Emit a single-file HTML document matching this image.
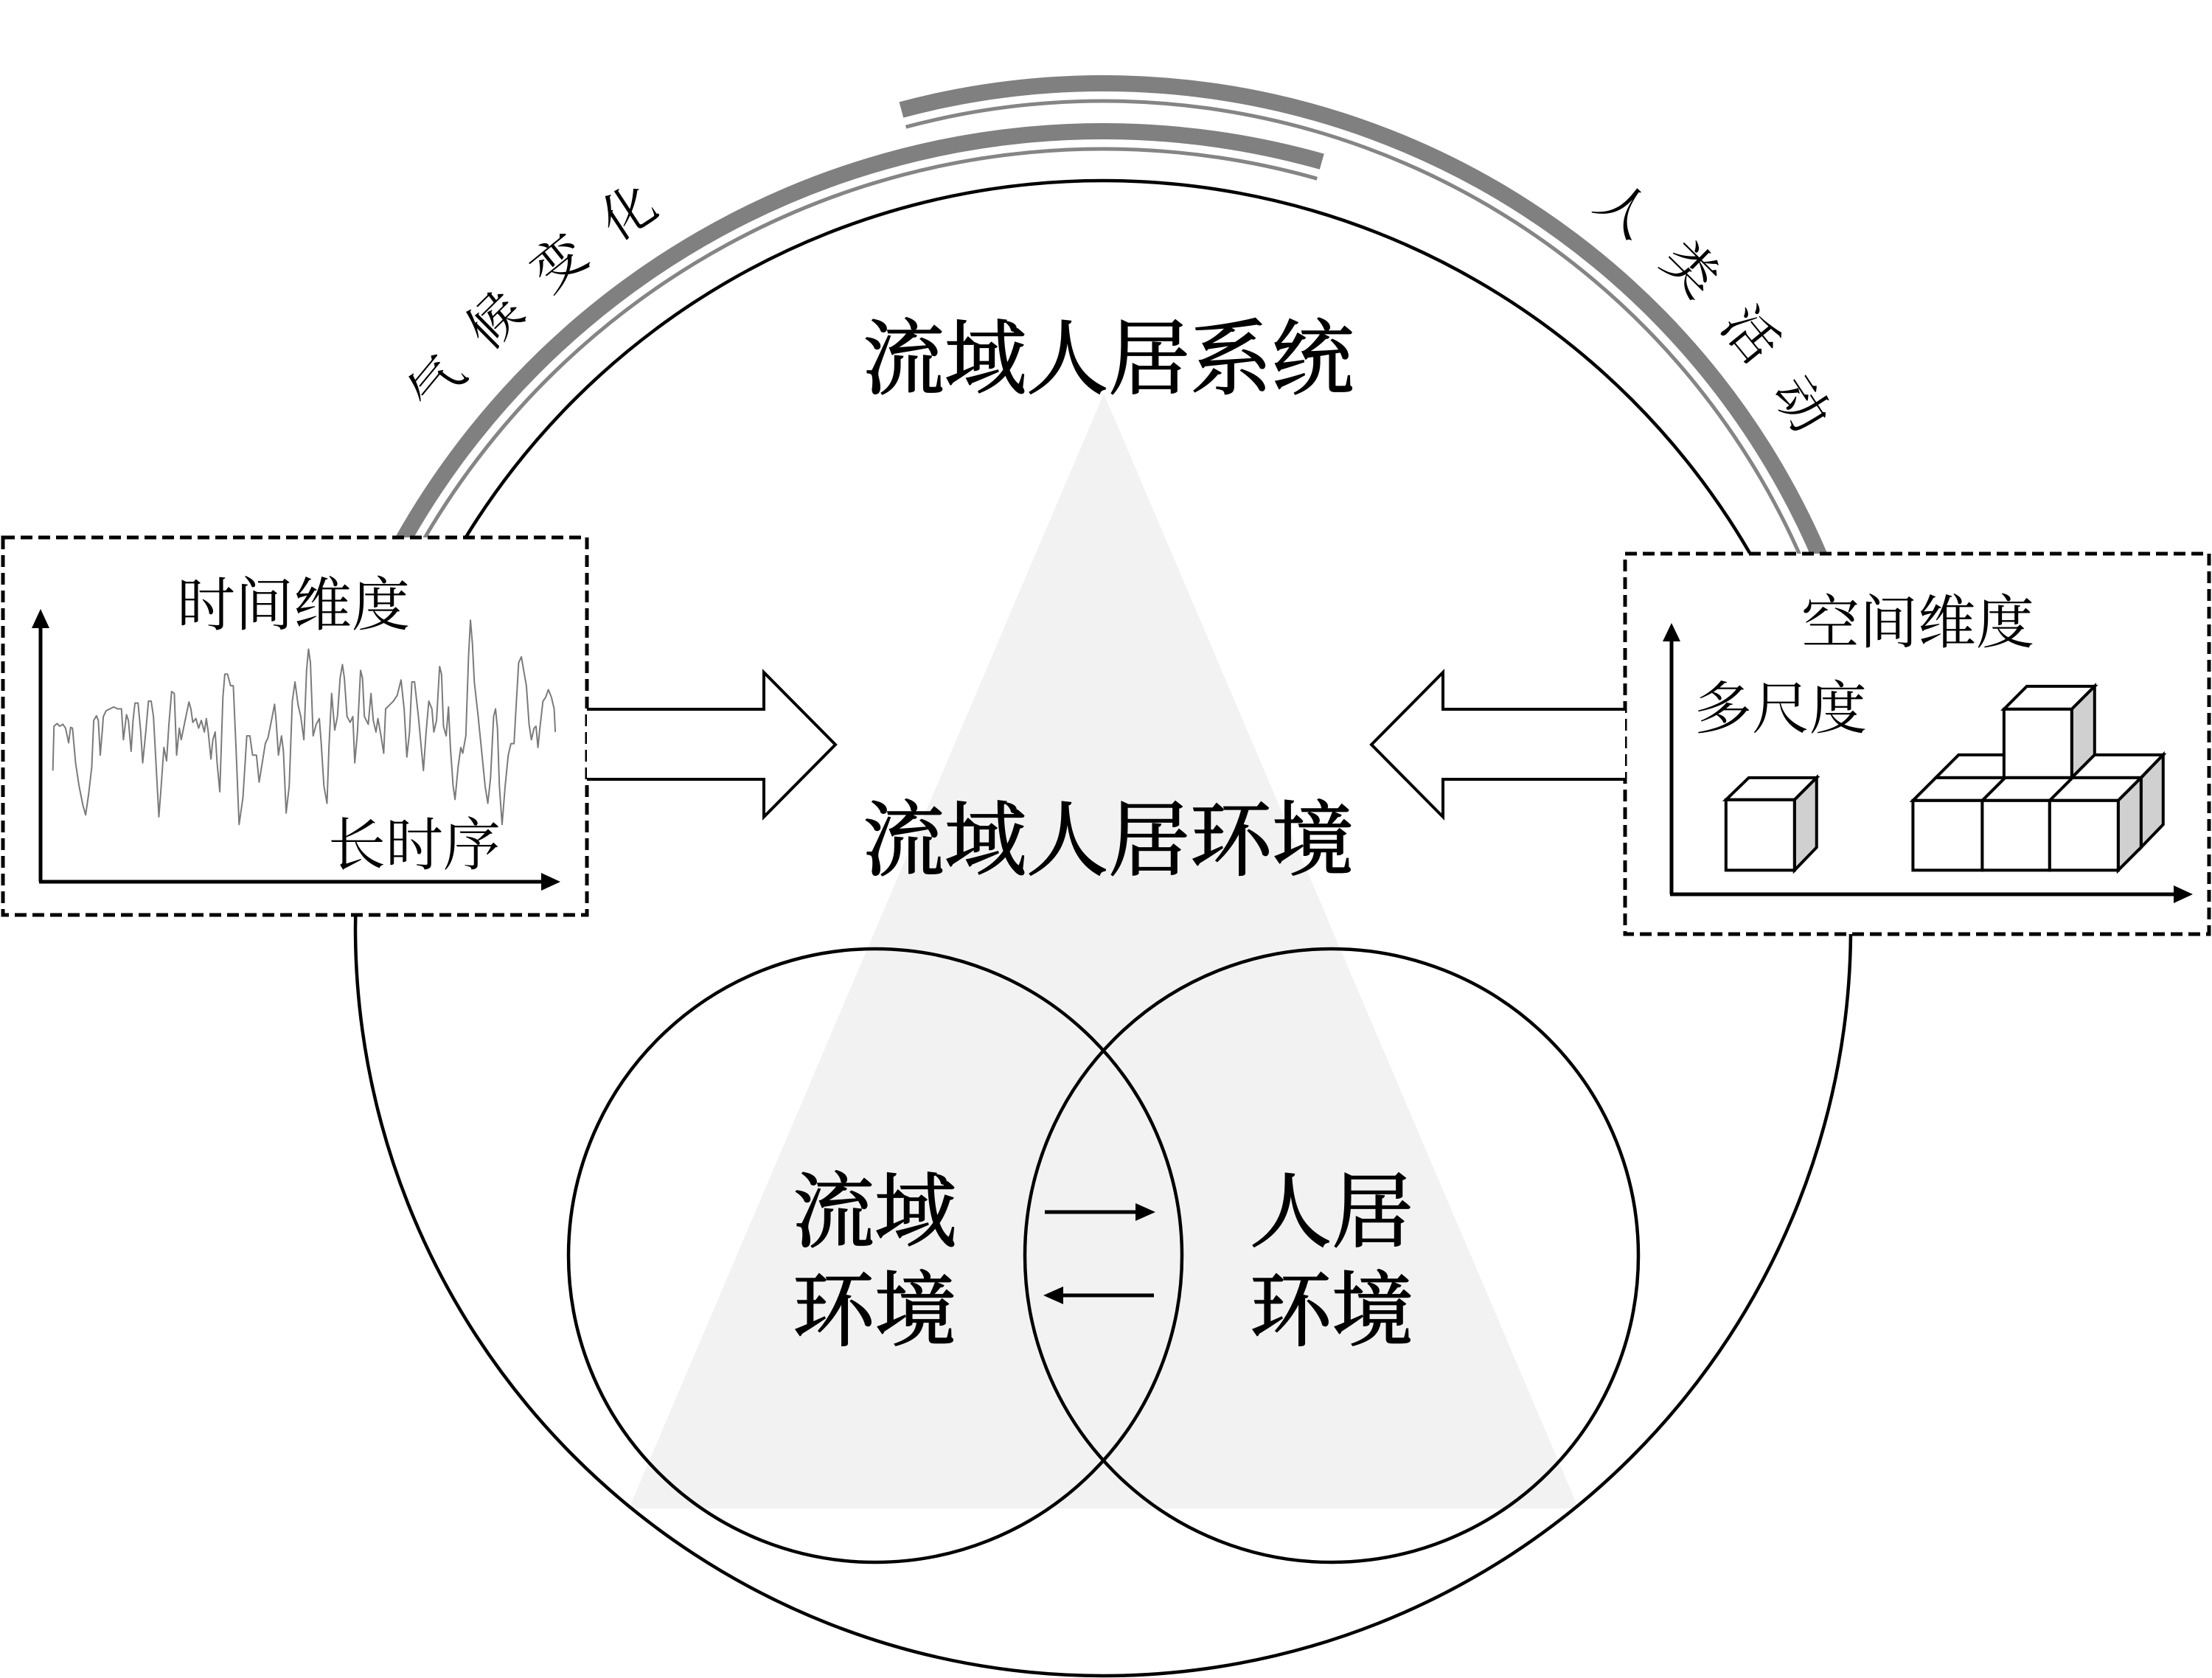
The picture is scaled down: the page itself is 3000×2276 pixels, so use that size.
<!DOCTYPE html>
<html>
<head>
<meta charset="utf-8">
<style>
html,body{margin:0;padding:0;background:#fff;}
svg{display:block;}
.t{font-family:"Liberation Serif","Noto Serif CJK SC","Noto Sans CJK SC",serif;fill:#000;}
</style>
</head>
<body>
<svg width="3000" height="2276" viewBox="0 0 3000 2276" xmlns="http://www.w3.org/2000/svg">
<rect width="3000" height="2276" fill="#fff"/>

<!-- light triangle -->
<polygon points="1497,534 853,2046 2141,2046" fill="#f2f2f2"/>

<!-- big circle -->
<circle cx="1496" cy="1259" r="1014" fill="none" stroke="#000" stroke-width="4.5"/>

<!-- venn circles -->
<circle cx="1187" cy="1703" r="416" fill="none" stroke="#000" stroke-width="4.5"/>
<circle cx="1806" cy="1703" r="416" fill="none" stroke="#000" stroke-width="4.5"/>

<!-- climate change arcs -->
<path d="M453.6,949.3 A1090,1090 0 0 1 1792.8,219.2" fill="none" stroke="#808080" stroke-width="22"/>
<path d="M476.6,956.3 A1066,1066 0 0 1 1786.3,242.3" fill="none" stroke="#858585" stroke-width="5"/>

<!-- human activity arcs -->
<path d="M1222.4,149 A1057,1057 0 0 1 2539.3,1000.1" fill="none" stroke="#808080" stroke-width="22"/>
<path d="M1228.6,172.2 A1033,1033 0 0 1 2515.6,1004" fill="none" stroke="#858585" stroke-width="5"/>

<!-- arc texts -->
<g class="t" font-size="72" text-anchor="middle">
<text transform="translate(590.7,519) rotate(-50.4)" x="0" y="27">气</text>
<text transform="translate(669.5,432.8) rotate(-44.7)" x="0" y="27">候</text>
<text transform="translate(756.6,354.9) rotate(-39)" x="0" y="27">变</text>
<text transform="translate(850.9,285.9) rotate(-33.3)" x="0" y="27">化</text>
<text transform="translate(2204.1,283) rotate(38.6)" x="0" y="27">人</text>
<text transform="translate(2294.4,363.2) rotate(44.7)" x="0" y="27">类</text>
<text transform="translate(2375.5,452.7) rotate(50.8)" x="0" y="27">活</text>
<text transform="translate(2444.6,546.9) rotate(56.7)" x="0" y="27">动</text>
</g>

<!-- left dashed box -->
<rect x="4" y="729" width="792" height="512" fill="#fff" stroke="#000" stroke-width="5" stroke-dasharray="16 8"/>
<!-- right dashed box -->
<rect x="2204" y="751" width="792" height="516" fill="#fff" stroke="#000" stroke-width="5" stroke-dasharray="16 8"/>

<!-- left box axes -->
<line x1="55" y1="1196" x2="55" y2="848" stroke="#000" stroke-width="5"/>
<line x1="53" y1="1196" x2="738" y2="1196" stroke="#000" stroke-width="5"/>
<polygon points="55,826 43,852 67,852" fill="#000"/>
<polygon points="760,1196 734,1184 734,1208" fill="#000"/>

<!-- waveform -->
<g transform="translate(0,700) scale(0.523)">
<polyline fill="none" stroke="#7a7a7a" stroke-width="3.8" stroke-linejoin="round" points="137,660 140,545 148,538 155,545 163,540 170,550 178,588 183,548 188,550 196,640 205,700 215,750 222,775 230,720 238,650 243,530 250,518 255,530 260,620 265,560 268,520 275,505 285,500 295,495 305,500 315,500 320,580 328,515 333,530 340,610 345,530 350,485 358,485 365,560 370,640 378,560 385,480 392,480 398,520 405,650 412,780 418,700 425,600 432,635 438,540 445,455 452,460 458,620 465,550 470,580 480,530 490,482 495,500 500,535 508,525 515,550 522,530 530,560 535,525 540,560 547,630 552,580 558,560 563,640 570,715 578,470 583,410 590,410 598,440 605,440 612,600 620,800 630,730 640,570 648,570 655,620 665,620 672,690 680,640 688,590 695,575 705,525 712,488 716,530 722,620 730,570 735,610 742,770 750,700 758,480 765,430 773,490 780,520 788,580 795,400 800,345 805,380 812,570 820,540 828,525 833,590 840,700 848,745 853,600 860,460 868,555 875,520 882,420 888,385 893,420 900,520 908,535 915,520 920,640 927,560 935,400 940,420 945,520 955,540 962,460 968,530 975,560 980,525 988,570 995,615 1000,500 1010,490 1020,480 1030,465 1040,425 1048,500 1055,625 1062,560 1068,430 1075,430 1085,520 1098,660 1105,560 1112,480 1120,500 1125,560 1132,530 1140,390 1145,410 1150,545 1157,570 1163,495 1168,600 1175,700 1180,735 1188,650 1195,600 1200,615 1208,570 1215,365 1220,270 1225,330 1230,430 1240,520 1250,620 1258,700 1265,745 1272,680 1280,520 1285,500 1290,550 1295,700 1302,800 1310,700 1318,620 1325,590 1333,590 1338,500 1345,380 1352,365 1358,400 1365,440 1372,540 1378,580 1385,550 1390,545 1395,600 1400,550 1408,480 1415,470 1422,450 1430,470 1437,500 1440,560"/>
</g>

<!-- right box axes -->
<line x1="2267" y1="1213" x2="2267" y2="867" stroke="#000" stroke-width="5"/>
<line x1="2265" y1="1213" x2="2952" y2="1213" stroke="#000" stroke-width="5"/>
<polygon points="2267,845 2255,870 2279,870" fill="#000"/>
<polygon points="2974,1213 2948,1201 2948,1225" fill="#000"/>

<!-- cubes -->
<g transform="translate(2190,700) scale(0.5165)" stroke="#000" stroke-width="7.8" stroke-linejoin="miter">
<polygon points="292,745 352,687 530,687 472,745" fill="#fff"/>
<polygon points="472,745 530,687 530,870 472,930" fill="#d0d0d0"/>
<rect x="292" y="745" width="180" height="185" fill="#fff"/>

<polygon points="843,687 903,627 1440,627 1382,687" fill="#fff"/>
<polygon points="1382,687 1440,627 1440,810 1382,870" fill="#d0d0d0"/>

<polygon points="1022,507 1082,447 1260,447 1200,507" fill="#fff"/>
<polygon points="1200,507 1260,447 1260,627 1200,687" fill="#d0d0d0"/>
<rect x="1022" y="507" width="178" height="180" fill="#fff"/>

<polygon points="783,747 843,687 1382,687 1322,747" fill="#fff"/>
<line x1="965" y1="747" x2="1025" y2="687"/>
<line x1="1142" y1="747" x2="1202" y2="687"/>
<polygon points="1322,747 1382,687 1382,870 1322,930" fill="#d0d0d0"/>
<rect x="783" y="747" width="182" height="183" fill="#fff"/>
<rect x="965" y="747" width="177" height="183" fill="#fff"/>
<rect x="1142" y="747" width="180" height="183" fill="#fff"/>
</g>

<!-- hollow arrows -->
<polyline points="796,962 1036,962 1036,912 1133,1010 1036,1108 1036,1057 796,1057" fill="#fff" stroke="#000" stroke-width="4" stroke-linejoin="miter"/>
<polyline points="2204,962 1957,962 1957,912 1860,1010 1957,1108 1957,1057 2204,1057" fill="#fff" stroke="#000" stroke-width="4" stroke-linejoin="miter"/>

<!-- lens arrows -->
<line x1="1417" y1="1644" x2="1542" y2="1644" stroke="#000" stroke-width="5"/>
<polygon points="1567,1644 1540,1632 1540,1656" fill="#000"/>
<line x1="1565" y1="1757" x2="1440" y2="1757" stroke="#000" stroke-width="5"/>
<polygon points="1415,1757 1442,1745 1442,1769" fill="#000"/>

<!-- texts -->
<g class="t" text-anchor="middle">
<g stroke="#000" stroke-width="1.8">
<text x="1503" y="525" font-size="111">流域人居系统</text>
<text x="1503" y="1178" font-size="111">流域人居环境</text>
<text x="1186" y="1682" font-size="111">流域</text>
<text x="1186" y="1816" font-size="111">环境</text>
<text x="1806" y="1682" font-size="111">人居</text>
<text x="1806" y="1816" font-size="111">环境</text>
</g>

<text x="398" y="848" font-size="79">时间维度</text>
<text x="562" y="1173" font-size="78">长时序</text>
<text x="2601" y="872" font-size="79">空间维度</text>
<text x="2415" y="988" font-size="78">多尺度</text>
</g>
</svg>
</body>
</html>
